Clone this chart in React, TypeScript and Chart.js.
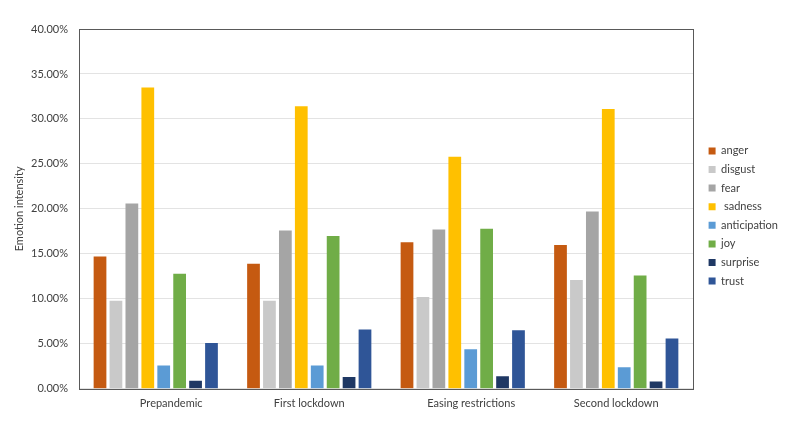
import { useEffect, useRef } from "react";
import { Chart, ChartConfiguration, registerables } from "chart.js";

Chart.register(...registerables);

// the source labels carry leading spaces, which push two of them off centre
const periods = ["           Prepandemic", "First lockdown", "      Easing restrictions", "Second lockdown"];

const emotions = ["anger", "disgust", "fear", " sadness", "anticipation", "joy", "surprise", "trust"];
const emotionColors = ["#C55A11", "#C9C9C9", "#A5A5A5", "#FFC000", "#5B9BD5", "#70AD47", "#1F3864", "#2F5597"];

// values in percent, one row per emotion, columns follow periods
const anger = [14.7, 13.9, 16.3, 16.0];
const disgust = [9.8, 9.8, 10.2, 12.1];
const fear = [20.6, 17.6, 17.7, 19.7];
const sadness = [33.5, 31.4, 25.8, 31.1];
const anticipation = [2.6, 2.6, 4.4, 2.4];
const joy = [12.8, 17.0, 17.8, 12.6];
const surprise = [0.9, 1.3, 1.4, 0.8];
const trust = [5.1, 6.6, 6.5, 5.6];

const seriesValues = [anger, disgust, fear, sadness, anticipation, joy, surprise, trust];

const yMin = 0;
const yMax = 40;
const yStep = 5;

const FONT = "Lato, 'Open Sans', sans-serif";

// outline around the plot area, like the spreadsheet chart
const plotBorder = {
  id: "plotBorder",
  afterDraw(chart: Chart) {
    const { ctx, chartArea } = chart;
    ctx.save();
    ctx.strokeStyle = "#595959";
    ctx.lineWidth = 1;
    ctx.strokeRect(
      Math.round(chartArea.left) + 0.5,
      Math.round(chartArea.top) + 0.5,
      Math.round(chartArea.right - chartArea.left),
      Math.round(chartArea.bottom - chartArea.top)
    );
    ctx.restore();
  },
};

export default function App() {
  const chartRef = useRef<HTMLCanvasElement>(null);
  const chartInstance = useRef<Chart | null>(null);

  useEffect(() => {
    if (!chartRef.current) return;
    const ctx = chartRef.current.getContext("2d");
    if (!ctx) return;

    if (chartInstance.current) {
      chartInstance.current.destroy();
    }

    const config: ChartConfiguration = {
      type: "bar",
      data: {
        labels: periods,
        datasets: emotions.map((label, i) => ({
          label,
          data: seriesValues[i],
          backgroundColor: emotionColors[i],
          borderWidth: 0,
          categoryPercentage: 0.83,
          barPercentage: 0.8,
        })),
      },
      options: {
        responsive: true,
        maintainAspectRatio: false,
        animation: false,
        layout: {
          padding: { left: 9, right: 12, top: 29, bottom: 30 },
        },
        plugins: {
          legend: {
            position: "right",
            fullSize: false,
            title: { display: true, text: "", font: { size: 1 }, padding: { top: 7, bottom: 6 } },
            labels: {
              boxWidth: 7,
              boxHeight: 7,
              padding: 7.6,
              color: "#404040",
              font: { family: FONT, size: 11 },
            },
          },
          tooltip: { enabled: false },
        },
        scales: {
          x: {
            grid: { display: false },
            border: { display: false },
            ticks: {
              color: "#404040",
              font: { family: FONT, size: 11 },
              padding: 0,
            },
          },
          y: {
            min: yMin,
            max: yMax,
            afterFit: (scale) => {
              scale.width = 70;
            },
            ticks: {
              stepSize: yStep,
              color: "#404040",
              font: { family: FONT, size: 11 },
              padding: 11,
              callback: (v) => Number(v).toFixed(2) + "%",
            },
            grid: { color: "#E3E3E3", drawTicks: false },
            border: { display: false },
            title: {
              display: true,
              text: "Emotion intensity",
              color: "#404040",
              font: { family: FONT, size: 11 },
              padding: { top: 4, bottom: 1 },
            },
          },
          // empty spacer between the plot and the legend
          gap: {
            type: "linear",
            position: "right",
            afterFit: (scale) => {
              scale.width = 8;
            },
            ticks: { display: false },
            grid: { display: false },
            border: { display: false },
          },
        },
      },
      plugins: [plotBorder],
    };

    chartInstance.current = new Chart(ctx, config);

    return () => {
      if (chartInstance.current) {
        chartInstance.current.destroy();
        chartInstance.current = null;
      }
    };
  }, []);

  return (
    <div style={{ position: "fixed", left: 0, top: 0, width: 800, height: 440, background: "#fff" }}>
      <canvas ref={chartRef}></canvas>
    </div>
  );
}
